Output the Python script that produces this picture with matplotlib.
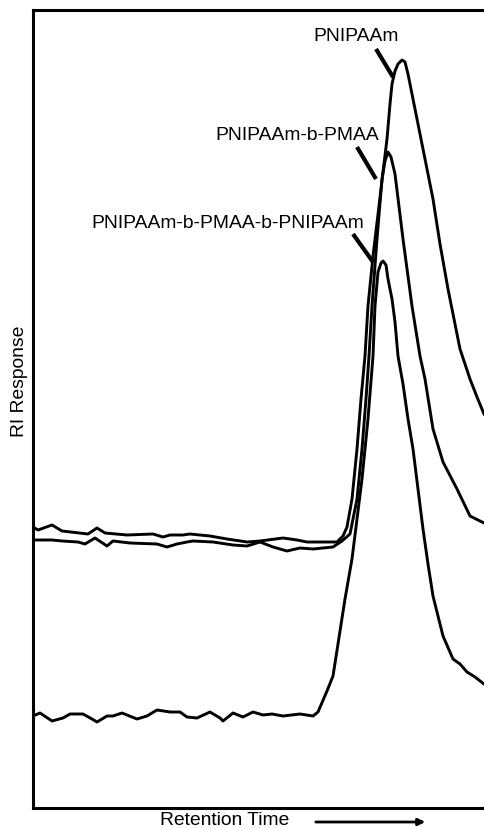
import matplotlib
matplotlib.use("Agg")
import matplotlib.pyplot as plt
import numpy as np

plt.rcParams['font.family'] = ['Liberation Sans', 'DejaVu Sans']

W, H = 484, 829
X0, Y0 = 33, 809  # origin used to convert read-off picture values

# Values (retention-time position, RI response), arbitrary units
homo_t = [33,38,52,62,88,97,105,127,153,163,170,183,190,210,227,247,260,283,297,307,337,343,347,352,357,361,365,368,373,379,383,387,390,392,395,398,402,405,408,413,420,427,433,440,448,455,460,470,477,484]
homo_r = [528,531,526,532,535,529,534,536,535,538,536,536,535,537,540,543,542,539,541,543,543,537,528,500,450,400,357,307,257,207,173,140,105,85,72,65,61,63,75,100,135,170,200,245,290,325,350,380,398,415]

di_t = [33,52,62,78,85,95,107,113,130,157,167,177,187,193,213,233,247,260,273,287,300,313,333,342,350,357,362,366,369,372,377,382,385,388,391,395,403,412,420,425,433,443,457,470,484]
di_r = [541,541,542,543,545,539,547,542,544,545,548,545,543,542,543,546,547,543,548,552,549,550,548,542,535,500,450,400,357,307,240,180,162,153,158,175,240,307,357,380,430,463,490,517,524]

tri_t = [33,40,52,63,70,83,92,97,107,113,122,137,147,157,170,180,187,197,210,220,223,233,243,253,263,272,283,300,313,318,327,333,338,345,352,357,362,368,373,375,378,381,383,386,388,392,395,398,403,408,413,418,423,428,433,443,453,460,467,475,484]
tri_r = [717,714,722,719,715,715,720,723,717,717,714,720,717,711,713,713,718,719,713,719,722,714,718,713,716,715,717,715,717,713,692,677,645,600,560,520,480,420,357,307,273,264,262,266,280,300,323,357,385,420,450,490,530,565,597,637,660,665,673,678,685]

labels = ["PNIPAAm", "PNIPAAm-b-PMAA", "PNIPAAm-b-PMAA-b-PNIPAAm"]

fig = plt.figure(figsize=(W/100, H/100), dpi=100)
ax = fig.add_axes([X0/W, (H-Y0)/H, 1 - X0/W, (Y0-11)/H])

def conv(t, r):
    return np.array(t) - X0, Y0 - np.array(r)

for t, r in [(homo_t, homo_r), (di_t, di_r), (tri_t, tri_r)]:
    x, y = conv(t, r)
    ax.plot(x, y, color='black', lw=2.1, solid_joinstyle='round')

ax.set_xlim(0, W - X0)
ax.set_ylim(0, Y0 - 11)
ax.set_xticks([]); ax.set_yticks([])
for s in ['left', 'bottom', 'top']:
    ax.spines[s].set_linewidth(2.2)
ax.spines['right'].set_visible(False)

# label positions (text centre) and leader lines
label_pos = [(356, 36), (297, 135), (228, 223)]
leaders = [((376, 50), (393, 78)), ((357, 148), (376, 180)), ((353, 235), (373, 263))]
for lab, (tx, ty), ((ax1, ay1), (ax2, ay2)) in zip(labels, label_pos, leaders):
    ax.text(tx - X0, Y0 - ty, lab, ha='center', va='center', fontsize=13.9)
    ax.plot([ax1 - X0, ax2 - X0], [Y0 - ay1, Y0 - ay2], color='black', lw=3, solid_capstyle='butt')

fig.text(19.5/W, 1 - 381/H, "RI Response", rotation=90, ha='center', va='center', fontsize=13.9)
fig.text(225/W, 1 - 821/H, "Retention Time", ha='center', va='center', fontsize=13.9)
fig.patches.append(matplotlib.patches.FancyArrowPatch((313/W, 1 - 823/H), (428/W, 1 - 823/H),
                   transform=fig.transFigure, arrowstyle='-|>', mutation_scale=10, lw=2, color='black'))

fig.savefig("out.png", dpi=100)
